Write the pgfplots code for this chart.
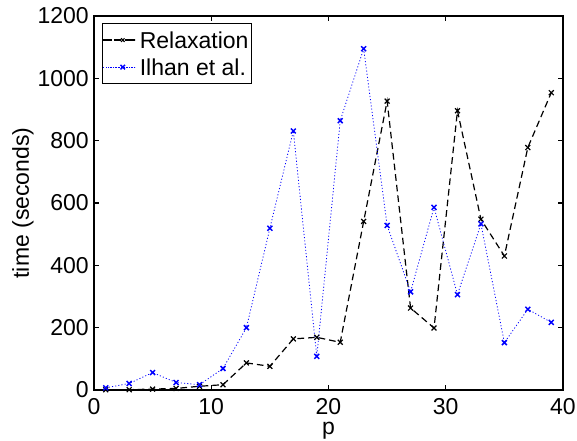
\documentclass[border=0pt]{standalone}
\usepackage{pgfplots}
\pgfplotsset{compat=1.18}
\usepackage{fontspec}
\setmainfont{Liberation Sans}
\newcommand{\fs}{\fontsize{17.25}{20}\selectfont}
\pgfplotsset{
  relaxleg/.style={legend image code/.code={
    \path (-3.75pt,0pt) -- (20.25pt,0pt);
    \draw[##1, mark=none, solid] (0pt,0pt) -- (3pt,0pt);
    \draw[##1, mark=none, solid] (17.25pt,0pt) -- (20.25pt,0pt);
    \draw[##1, solid, only marks, mark size=1.9pt] plot coordinates {(10.9pt,0pt)};
  }},
  ilhanleg/.style={legend image code/.code={
    \path (-3.75pt,0pt) -- (20.25pt,0pt);
    \draw[##1, mark=none] (0pt,0pt) -- (20.25pt,0pt);
    \draw[##1, solid, only marks, mark size=2.4pt] plot coordinates {(10.9pt,0pt)};
  }},
}
\begin{document}
\fs
\begin{tikzpicture}
\useasboundingbox (-70.5pt,-37.5pt) rectangle (362.25pt,292.5pt);
\begin{axis}[
  at={(0,0)}, anchor=south west,
  scale only axis,
  width=351.75pt, height=280.5pt,
  xmin=0, xmax=40, ymin=0, ymax=1200,
  xtick={0,10,20,30,40}, ytick={0,200,400,600,800,1000,1200},
  tick align=inside,
  major tick length=3.75pt,
  tick style={black, line width=0.9pt},
  axis line style={black, line width=1.2pt},
  /pgf/number format/assume math mode=true,
  scaled ticks=false,
  yticklabel style={/pgf/number format/1000 sep={}, anchor=east, inner sep=0pt, xshift=-3.75pt, font=\fs},
  xticklabel style={anchor=north, inner sep=0pt, yshift=-6pt, font=\fs},
  xlabel={p}, ylabel={time (seconds)},
  xlabel style={at={(axis description cs:0.5,0)}, anchor=base, yshift=-33.4pt, inner sep=0pt, font=\fs},
  ylabel style={at={(axis description cs:-0.1514,0.5)}, anchor=center, inner sep=0pt, font=\fs},
  legend style={at={(axis description cs:0.0171,0.9813)}, anchor=north west, draw=black, line width=0.9pt,
    font=\fs, inner xsep=0pt, inner ysep=2.25pt, row sep=0pt, column sep=0.75pt,
    nodes={inner xsep=2.25pt, inner ysep=1pt, text height=15.5pt, text depth=2.75pt},
    legend cell align=left},
]
\addplot[black, line width=0.9pt, dash pattern=on 5pt off 3pt, mark=x, mark size=2.6pt, mark options={solid}, relaxleg] coordinates {
(1,1) (3,1) (5,3) (7,5) (9,12) (11,17) (13,87) (15,76) (17,164) (19,169)
(21,153) (23,541) (25,927) (27,263) (29,199) (31,896) (33,548) (35,430) (37,778) (39,954)
};
\addlegendentry{Relaxation}
\addplot[blue, line width=0.6pt, dash pattern=on 0.8pt off 1.6pt, mark=x, mark size=2.6pt, mark options={solid, line width=1.1pt}, ilhanleg] coordinates {
(1,7) (3,21) (5,56) (7,24) (9,17) (11,69) (13,200) (15,519) (17,831) (19,108)
(21,864) (23,1095) (25,528) (27,315) (29,586) (31,306) (33,533) (35,152) (37,259) (39,217)
};
\addlegendentry{Ilhan et al.}
\end{axis}
\end{tikzpicture}
\end{document}
